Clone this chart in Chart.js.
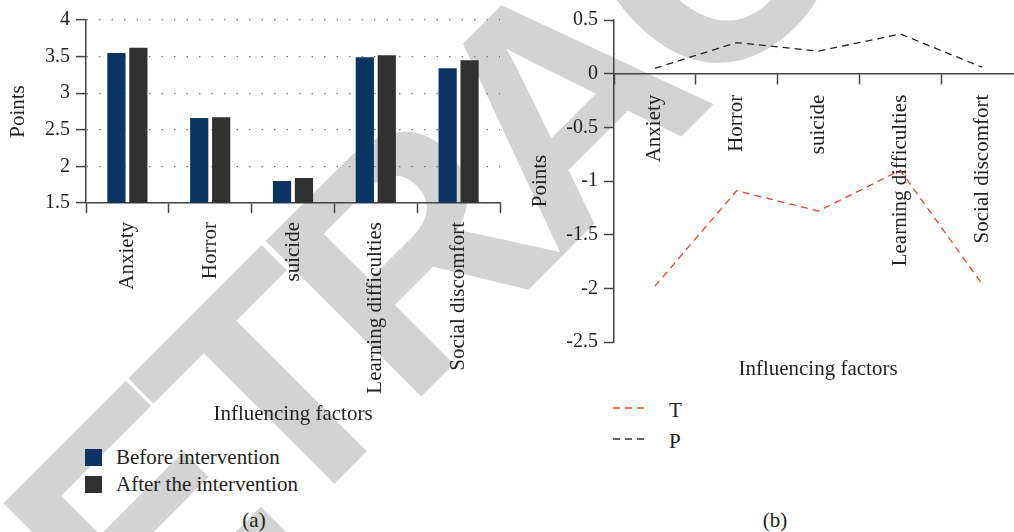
<!DOCTYPE html>
<html>
<head>
<meta charset="utf-8">
<script src="https://cdn.jsdelivr.net/npm/chart.js@4/dist/chart.umd.min.js"></script>
<style>
  html, body { margin: 0; padding: 0; background: #fff; overflow: hidden; }
  body { width: 1014px; height: 532px; position: relative; font-family: 'Liberation Serif', serif; color: #231f20; }
  #mark { position: absolute; left: 0; top: 0; z-index: 0; }
  canvas { position: absolute; z-index: 1; }
  #barChart { left: 0; top: 0; }
  #lineChart { left: 520px; top: 0; }
  .txt { position: absolute; z-index: 2; font-size: 21px; line-height: 24px; white-space: nowrap; }
  .box { position: absolute; z-index: 2; width: 17px; height: 17px; }
  .cap { position: absolute; z-index: 2; font-size: 21px; line-height: 24px; white-space: nowrap; transform: translateX(-50%); }
</style>
</head>
<body>
<svg id="mark" width="1014" height="532">
  <text transform="translate(-6,824) rotate(-45)" font-family="Liberation Sans" font-weight="bold" font-size="320" letter-spacing="-19" fill="#d3d3d3">RETRACTED</text>
</svg>

<canvas id="barChart" width="520" height="430"></canvas>
<canvas id="lineChart" width="510" height="360"></canvas>

<!-- legend (a) -->
<div class="box" style="left:85px; top:449px; background:#0b3463;"></div>
<div class="txt" style="left:116px; top:445px;">Before intervention</div>
<div class="box" style="left:85px; top:476px; background:#323132;"></div>
<div class="txt" style="left:116px; top:472px;">After the intervention</div>
<div class="cap" style="left:254px; top:508px;">(a)</div>

<!-- legend (b) -->
<svg style="position:absolute; left:610px; top:400px; z-index:2;" width="45" height="50">
  <line x1="3" y1="8" x2="38" y2="8" stroke="#f0412a" stroke-width="1.3" stroke-dasharray="7 5"></line>
  <line x1="3" y1="39" x2="38" y2="39" stroke="#333" stroke-width="1.3" stroke-dasharray="7 5"></line>
</svg>
<div class="txt" style="left:669px; top:398px;">T</div>
<div class="txt" style="left:669px; top:429px;">P</div>
<div class="cap" style="left:818px; top:356px;">Influencing factors</div>
<div class="cap" style="left:775px; top:508px;">(b)</div>

<script>
// chart values
const factors = ["Anxiety", "Horror", "suicide", "Learning difficulties", "Social discomfort"];
const beforeScores = [3.55, 2.66, 1.80, 3.49, 3.34];
const afterScores = [3.62, 2.67, 1.84, 3.52, 3.45];
const tValues = [-1.98, -1.09, -1.28, -0.90, -1.96];
const pValues = [0.05, 0.29, 0.21, 0.37, 0.06];

Chart.defaults.font.family = "'Liberation Serif', serif";
Chart.defaults.font.size = 21;
Chart.defaults.color = "#231f20";

const axisColor = "#444";
const tickFont = { size: 20 };
// plain numbers: 4, 3.5, -1 ...
const plainTick = (v) => String(Math.round(v * 10) / 10);

// (a) bar chart
new Chart(document.getElementById("barChart"), {
    type: "bar",
    data: {
        labels: factors,
        datasets: [
            { label: "Before intervention", data: beforeScores, backgroundColor: "#0b3463", barPercentage: 0.83, categoryPercentage: 0.53 },
            { label: "After the intervention", data: afterScores, backgroundColor: "#323132", barPercentage: 0.83, categoryPercentage: 0.53 }
        ]
    },
    options: {
        responsive: false,
        animation: false,
        layout: { padding: { top: 20, right: 20, left: 0, bottom: 0 } },
        plugins: { legend: { display: false }, tooltip: { enabled: false } },
        scales: {
            x: {
                afterFit: (scale) => { scale.height = 227; },
                grid: { drawOnChartArea: false, tickLength: 10, tickColor: axisColor, tickWidth: 1.5, offset: true },
                border: { color: axisColor, width: 1.5 },
                ticks: { minRotation: 90, maxRotation: 90, padding: 9, autoSkip: false },
                title: { display: true, text: "Influencing factors", padding: { top: 0, bottom: 3 } }
            },
            y: {
                min: 1.5,
                max: 4,
                afterFit: (scale) => { scale.width = 86; },
                ticks: { stepSize: 0.5, padding: 6, font: tickFont, callback: plainTick },
                grid: { color: "#777", lineWidth: 1.2, tickLength: 10, tickColor: axisColor, tickWidth: 1.5, tickBorderDash: [] },
                border: { color: axisColor, width: 1.5, dash: [1.5, 11] },
                title: { display: true, text: "Points", padding: { top: 6, bottom: 0 } }
            }
        }
    }
});

// (b) line chart
new Chart(document.getElementById("lineChart"), {
    type: "line",
    data: {
        labels: factors,
        datasets: [
            { label: "T", data: tValues, borderColor: "#f0412a", borderWidth: 1.3, borderDash: [7, 5], pointRadius: 0, fill: false, tension: 0 },
            { label: "P", data: pValues, borderColor: "#222", borderWidth: 1.3, borderDash: [7, 5], pointRadius: 0, fill: false, tension: 0 }
        ]
    },
    options: {
        responsive: false,
        animation: false,
        layout: { padding: { top: 20, right: 7, left: 0, bottom: 16 } },
        plugins: { legend: { display: false }, tooltip: { enabled: false } },
        scales: {
            x: {
                position: { y: 0 },
                offset: true,
                grid: { drawOnChartArea: false, tickLength: 10, tickColor: axisColor, tickWidth: 1.5, offset: true },
                border: { color: axisColor, width: 1.5 },
                ticks: { minRotation: 90, maxRotation: 90, padding: 11, autoSkip: false }
            },
            y: {
                min: -2.5,
                max: 0.5,
                afterFit: (scale) => { scale.width = 94; },
                ticks: { stepSize: 0.5, padding: 6, font: tickFont, callback: plainTick },
                grid: { drawOnChartArea: false, tickLength: 10, tickColor: axisColor, tickWidth: 1.5 },
                border: { color: axisColor, width: 1.5 },
                title: { display: true, text: "Points", padding: { top: 8, bottom: 0 } }
            }
        }
    }
});
</script>
</body>
</html>
